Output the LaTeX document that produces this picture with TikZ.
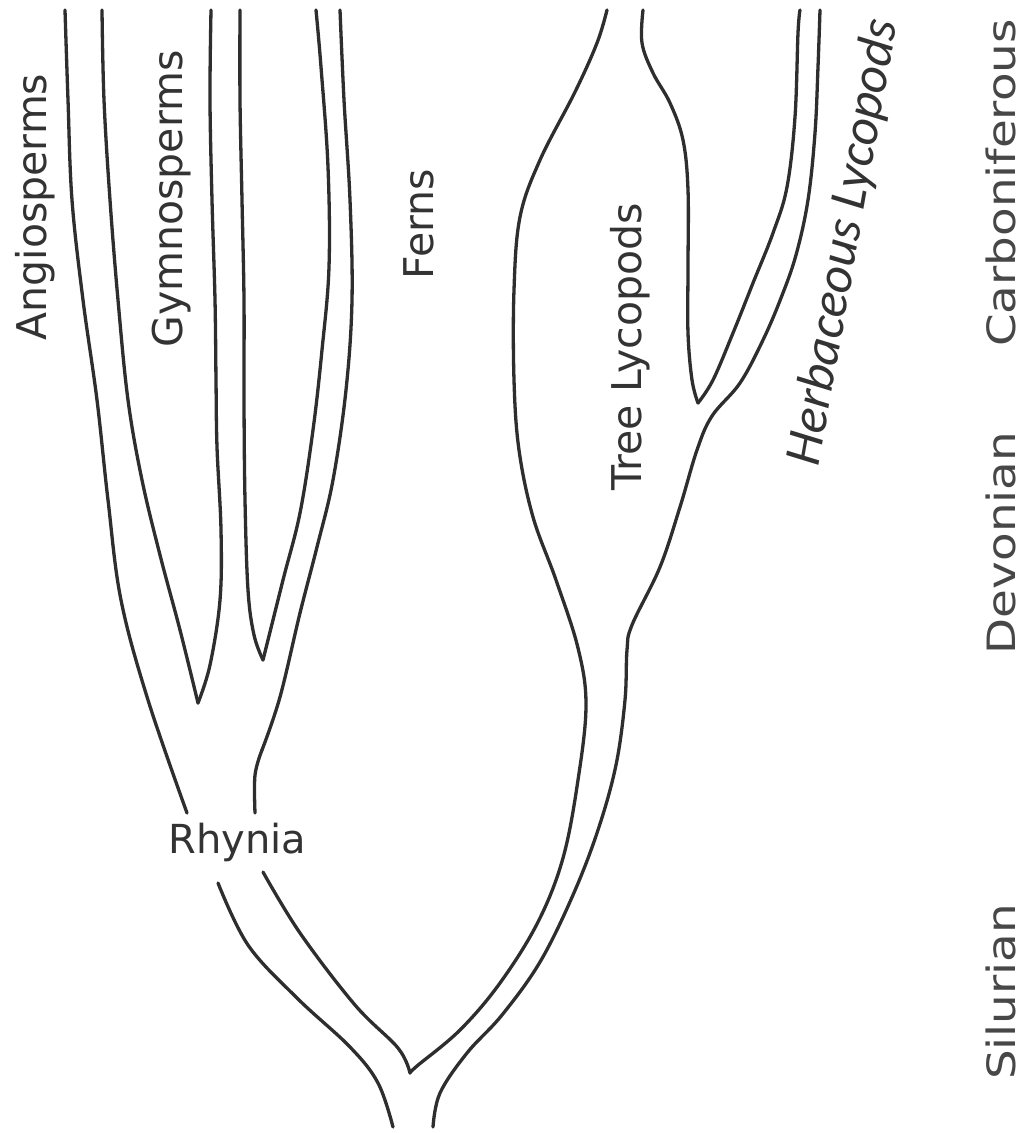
\documentclass[tikz,border=0pt]{standalone}
\usepackage{fontspec}
\setmainfont{DejaVu Sans}
\newfontfamily\labfont{DejaVu Sans}
\newfontfamily\herbfont{Carlito}
\newfontfamily\perfont[FakeStretch=1.2]{DejaVu Sans}
\tikzset{
  branch/.style={line width=3.3pt, draw=black!82, line cap=round, line join=round},
  lab/.style={font=\labfont\fontsize{41}{41}\selectfont, text=black!80, inner sep=0pt, anchor=base},
  herb/.style={font=\herbfont\itshape\fontsize{52}{52}\selectfont, text=black!80, inner sep=0pt, anchor=base},
  period/.style={font=\perfont\fontsize{39}{39}\selectfont, text=black!72, inner sep=0pt, anchor=base, rotate=90},
}
\begin{document}
\begin{tikzpicture}[x=1pt, y=-1pt]
\useasboundingbox (0,0) rectangle (1029,1133);
\fill[white] (0,0) rectangle (1029,1133);

% Angiosperms outer line
\draw[branch] plot[smooth, tension=0.6] coordinates {(65,10) (68,100) (72,200) (83,300) (97,400) (108,500) (121,600) (148,700) (187,813)};
% Angiosperm / Gymnosperm V
\draw[branch] plot[smooth, tension=0.6] coordinates {(102,10) (104,100) (110,200) (118,300) (128,400) (142,480) (160,555) (180,630) (198,703)};
\draw[branch] plot[smooth, tension=0.6] coordinates {(198,703) (210,665) (220,600) (221,530) (217,447) (216,380) (215,300) (212,200) (210,100) (211,10)};
% Gymnosperm / Fern V
\draw[branch] plot[smooth, tension=0.6] coordinates {(240,10) (240,100) (242,200) (244,300) (244,400) (245,500) (248,590) (254,635) (263,660)};
\draw[branch] plot[smooth, tension=0.6] coordinates {(263,660) (283,580) (300,513) (313,430) (322,350) (329,267) (328,167) (321,67) (316,10)};
% Fern outer line
\draw[branch] plot[smooth, tension=0.6] coordinates {(340,10) (344,100) (350,200) (352,300) (346,390) (333,480) (317,547) (300,613) (280,697) (262,750)};
\draw[branch] plot[smooth, tension=0.6] coordinates {(262,750) (255,775) (255,813)};

% Rhynia stem, left
\draw[branch] plot[smooth, tension=0.6] coordinates {(218,883) (248,945) (297,998) (350,1047) (378,1083) (393,1127)};
% Rhynia stem, right, to the fork
\draw[branch] plot[smooth, tension=0.6] coordinates {(263,872) (300,933) (355,1005) (398,1048) (410,1073)};
% fork up along the lycopod stem (inner line)
\draw[branch] plot[smooth, tension=0.6] coordinates {(410,1073) (417,1066) (460,1030) (500,983) (538,922) (563,858) (578,780) (586,705) (578,648) (556,580) (533,517) (519,450) (514,380) (514,290) (520,217) (540,160) (575,92) (597,43) (607,10)};
% lycopod outer line
\draw[branch] plot[smooth, tension=0.6] coordinates {(433,1127) (440,1093) (467,1053) (502,1015) (540,962) (573,895) (598,830) (616,765) (625,700) (627,650) (632,625) (660,567) (680,507) (697,450) (712,416) (740,383) (763,340) (781,298) (796,255) (808,200) (815,133) (818,67) (820,10)};
% Tree lycopod / herbaceous V
\draw[branch] plot[smooth, tension=0.6] coordinates {(643,10) (642,43) (653,73) (670,103) (683,140) (688,190) (688,267) (688,333) (692,380) (698,403)};
\draw[branch] plot[smooth, tension=0.6] coordinates {(698,403) (713,380) (733,333) (753,283) (773,233) (787,187) (795,117) (798,33) (800,10)};

% labels
\node[lab, rotate=90] (angio) at (46,207) {Angiosperms};
\node[lab, rotate=90] (gymno) at (182,199) {Gymnosperms};
\node[lab, rotate=90] (ferns) at (433,224) {Ferns};
\node[lab, rotate=90] (tree) at (641,347) {Tree Lycopods};
\node[herb, rotate=80] (herb) at (858,245) {Herbaceous Lycopods};
\node[lab, font=\labfont\fontsize{40}{40}\selectfont] (rhynia) at (237.5,853) {Rhynia};

\node[period] (carb) at (1015,183) {Carboniferous};
\node[period] (devon) at (1015,543) {Devonian};
\node[period] (silur) at (1015,992) {Silurian};
\end{tikzpicture}
\end{document}
